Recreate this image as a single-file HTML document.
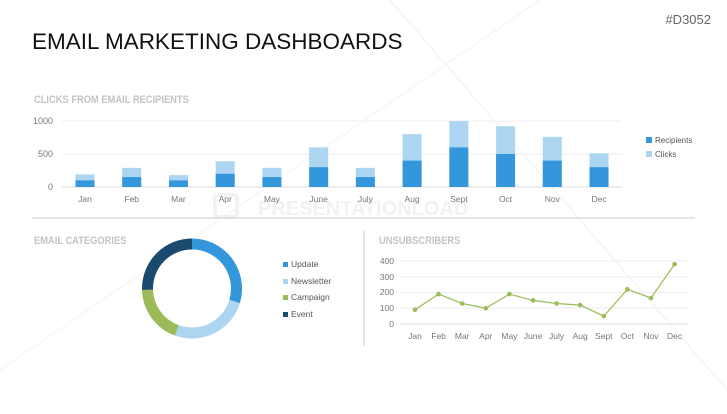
<!DOCTYPE html>
<html><head><style>
body{margin:0;width:727px;height:409px;background:#fff;overflow:hidden;font-family:"Liberation Sans",sans-serif}
</style></head><body>
<svg width="727" height="409" xmlns="http://www.w3.org/2000/svg" font-family="Liberation Sans, sans-serif">
<line x1="390" y1="0" x2="727" y2="390" stroke="#f0f0f0" stroke-width="1"/>
<line x1="0" y1="370" x2="540" y2="0" stroke="#f3f3f3" stroke-width="1"/>
<text x="258" y="215" font-size="20" font-weight="bold" fill="#f2f2f2">PRESENTATIONLOAD</text>
<rect x="215" y="195" width="22" height="22" rx="3" fill="none" stroke="#f2f2f2" stroke-width="4"/>
<text x="711" y="24" font-size="13" fill="#666" text-anchor="end">#D3052</text>
<text x="32" y="49" font-size="22.5" fill="#111">EMAIL MARKETING DASHBOARDS</text>
<text x="34" y="103" font-size="11" font-weight="bold" fill="#c4c4c4" transform="translate(34,0) scale(0.85,1) translate(-34,0)">CLICKS FROM EMAIL RECIPIENTS</text>
<g font-size="9" fill="#777">
<line x1="62" y1="121" x2="622" y2="121" stroke="#eee"/>
<line x1="62" y1="154" x2="622" y2="154" stroke="#eee"/>
<line x1="62" y1="187" x2="622" y2="187" stroke="#ddd"/>
<text x="53" y="124" text-anchor="end">1000</text>
<text x="53" y="157" text-anchor="end">500</text>
<text x="53" y="190" text-anchor="end">0</text>
</g>
<g fill="#acd5f1">
<rect x="75.5" y="174.46" width="19" height="12.54"/>
<rect x="122.23" y="167.86" width="19" height="19.14"/>
<rect x="168.96" y="175.12" width="19" height="11.88"/>
<rect x="215.69" y="161.26" width="19" height="25.74"/>
<rect x="262.42" y="167.86" width="19" height="19.14"/>
<rect x="309.15" y="147.4" width="19" height="39.6"/>
<rect x="355.88" y="167.86" width="19" height="19.14"/>
<rect x="402.61" y="134.2" width="19" height="52.8"/>
<rect x="449.34" y="121" width="19" height="66"/>
<rect x="496.07" y="126.28" width="19" height="60.72"/>
<rect x="542.8" y="136.84" width="19" height="50.16"/>
<rect x="589.53" y="153.34" width="19" height="33.66"/>
</g>
<g fill="#3597db">
<rect x="75.5" y="180.4" width="19" height="6.6"/>
<rect x="122.23" y="177.1" width="19" height="9.9"/>
<rect x="168.96" y="180.4" width="19" height="6.6"/>
<rect x="215.69" y="173.8" width="19" height="13.2"/>
<rect x="262.42" y="177.1" width="19" height="9.9"/>
<rect x="309.15" y="167.2" width="19" height="19.8"/>
<rect x="355.88" y="177.1" width="19" height="9.9"/>
<rect x="402.61" y="160.6" width="19" height="26.4"/>
<rect x="449.34" y="147.4" width="19" height="39.6"/>
<rect x="496.07" y="154" width="19" height="33"/>
<rect x="542.8" y="160.6" width="19" height="26.4"/>
<rect x="589.53" y="167.2" width="19" height="19.8"/>
</g>
<g font-size="8.5" fill="#777" text-anchor="middle">
<text x="85" y="202">Jan</text><text x="131.73" y="202">Feb</text><text x="178.46" y="202">Mar</text>
<text x="225.19" y="202">Apr</text><text x="271.92" y="202">May</text><text x="318.65" y="202">June</text>
<text x="365.38" y="202">July</text><text x="412.11" y="202">Aug</text><text x="458.84" y="202">Sept</text>
<text x="505.57" y="202">Oct</text><text x="552.3" y="202">Nov</text><text x="599.03" y="202">Dec</text>
</g>
<g font-size="8" fill="#555"><rect x="646" y="137" width="6" height="6" fill="#3597db"/><text x="655" y="143">Recipients</text>
<rect x="646" y="151" width="6" height="6" fill="#acd5f1"/><text x="655" y="157">Clicks</text></g>
<line x1="32" y1="218" x2="695" y2="218" stroke="#ccc"/>
<line x1="364" y1="231" x2="364" y2="346" stroke="#ccc"/>
<text x="34" y="244" font-size="11" font-weight="bold" fill="#c4c4c4" transform="translate(34,0) scale(0.85,1) translate(-34,0)">EMAIL CATEGORIES</text>
<text x="379" y="244" font-size="11" font-weight="bold" fill="#c4c4c4" transform="translate(379,0) scale(0.85,1) translate(-379,0)">UNSUBSCRIBERS</text>
<g transform="translate(192,288.5) rotate(-90)" fill="none" stroke-width="11">
<circle r="44.5" stroke="#3597db" stroke-dasharray="83 280" stroke-dashoffset="0"/>
<circle r="44.5" stroke="#acd5f1" stroke-dasharray="72 280" stroke-dashoffset="-83"/>
<circle r="44.5" stroke="#9bbb59" stroke-dasharray="53 280" stroke-dashoffset="-155"/>
<circle r="44.5" stroke="#1a4b6e" stroke-dasharray="71.6 280" stroke-dashoffset="-208"/>
</g>
<g font-size="8.5" fill="#555">
<rect x="283" y="262" width="5" height="5" fill="#3597db"/><text x="291" y="267">Update</text>
<rect x="283" y="279" width="5" height="5" fill="#acd5f1"/><text x="291" y="284">Newsletter</text>
<rect x="283" y="295" width="5" height="5" fill="#9bbb59"/><text x="291" y="300">Campaign</text>
<rect x="283" y="312" width="5" height="5" fill="#1a4b6e"/><text x="291" y="317">Event</text>
</g>
<g font-size="8.5" fill="#777">
<line x1="400" y1="261" x2="688" y2="261" stroke="#eee"/>
<line x1="400" y1="277" x2="688" y2="277" stroke="#eee"/>
<line x1="400" y1="292.5" x2="688" y2="292.5" stroke="#eee"/>
<line x1="400" y1="308" x2="688" y2="308" stroke="#eee"/>
<line x1="400" y1="324" x2="688" y2="324" stroke="#ddd"/>
<text x="394" y="264" text-anchor="end">400</text>
<text x="394" y="280" text-anchor="end">300</text>
<text x="394" y="295" text-anchor="end">200</text>
<text x="394" y="311" text-anchor="end">100</text>
<text x="394" y="327" text-anchor="end">0</text>
</g>
<polyline fill="none" stroke="#9bbb59" stroke-width="1.2" points="415,309.8 438.6,294.1 462.2,303.5 485.8,308.25 509.4,294.1 533,300.4 556.6,303.5 580.2,305.1 603.8,316.1 627.4,289.35 651,298 674.6,264.15"/>
<g fill="#9bbb59">
<circle cx="415" cy="309.8" r="2.3"/><circle cx="438.6" cy="294.1" r="2.3"/><circle cx="462.2" cy="303.5" r="2.3"/>
<circle cx="485.8" cy="308.25" r="2.3"/><circle cx="509.4" cy="294.1" r="2.3"/><circle cx="533" cy="300.4" r="2.3"/>
<circle cx="556.6" cy="303.5" r="2.3"/><circle cx="580.2" cy="305.1" r="2.3"/><circle cx="603.8" cy="316.1" r="2.3"/>
<circle cx="627.4" cy="289.35" r="2.3"/><circle cx="651" cy="298" r="2.3"/><circle cx="674.6" cy="264.15" r="2.3"/>
</g>
<g font-size="8.5" fill="#777" text-anchor="middle">
<text x="415" y="339">Jan</text><text x="438.6" y="339">Feb</text><text x="462.2" y="339">Mar</text>
<text x="485.8" y="339">Apr</text><text x="509.4" y="339">May</text><text x="533" y="339">June</text>
<text x="556.6" y="339">July</text><text x="580.2" y="339">Aug</text><text x="603.8" y="339">Sept</text>
<text x="627.4" y="339">Oct</text><text x="651" y="339">Nov</text><text x="674.6" y="339">Dec</text>
</g>
</svg>
</body></html>
